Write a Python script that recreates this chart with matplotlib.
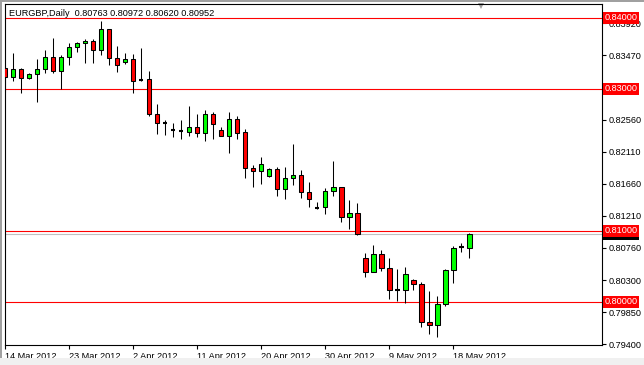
import matplotlib
matplotlib.use("Agg")
import matplotlib.pyplot as plt
from matplotlib.patches import Rectangle

plt.rcParams['font.family'] = 'Liberation Sans'
plt.rcParams['font.size'] = 6.6

# EURGBP daily bars, 14 Mar 2012 .. 21 May 2012
opens = [
    0.83287, 0.83169, 0.83273, 0.83146, 0.83203, 0.83273, 0.83442, 0.83253, 0.83442, 0.83583,
    0.83639, 0.83676, 0.83545, 0.83837, 0.83428, 0.83372, 0.83414, 0.83120, 0.83132, 0.82640,
    0.82519, 0.82418, 0.82408, 0.82394, 0.82456, 0.82380, 0.82640, 0.82418, 0.82338, 0.82569,
    0.82390, 0.81879, 0.81837, 0.81770, 0.81865, 0.81583, 0.81738, 0.81785, 0.81541, 0.81320,
    0.81330, 0.81563, 0.81611, 0.81189, 0.81245, 0.80611, 0.80414, 0.80668, 0.80470, 0.80165,
    0.80165, 0.80306, 0.80245, 0.79710, 0.79668, 0.79963, 0.80446, 0.80770, 0.80763]
highs = [
    0.83334, 0.83499, 0.83296, 0.83217, 0.83414, 0.83545, 0.83710, 0.83475, 0.83639, 0.83654,
    0.83700, 0.83696, 0.83958, 0.83837, 0.83601, 0.83499, 0.83485, 0.83569, 0.83249, 0.82785,
    0.82559, 0.82521, 0.82559, 0.82756, 0.82640, 0.82700, 0.82668, 0.82456, 0.82668, 0.82616,
    0.82428, 0.81925, 0.82034, 0.81879, 0.81893, 0.81893, 0.82221, 0.81855, 0.81682, 0.81400,
    0.81597, 0.81982, 0.81611, 0.81432, 0.81394, 0.80690, 0.80799, 0.80728, 0.80611, 0.80456,
    0.80493, 0.80320, 0.80273, 0.80155, 0.80080, 0.80461, 0.80785, 0.80831, 0.80972]
lows = [
    0.82958, 0.83113, 0.82935, 0.83132, 0.82817, 0.83225, 0.83217, 0.82992, 0.83334, 0.83521,
    0.83358, 0.83358, 0.83475, 0.83334, 0.83240, 0.83344, 0.82935, 0.83110, 0.82616, 0.82362,
    0.82348, 0.82324, 0.82292, 0.82334, 0.82324, 0.82268, 0.82292, 0.82335, 0.82099, 0.82292,
    0.81738, 0.81620, 0.81654, 0.81752, 0.81489, 0.81442, 0.81644, 0.81465, 0.81338, 0.81310,
    0.81231, 0.81493, 0.81127, 0.81028, 0.80939, 0.80352, 0.80414, 0.80432, 0.80034, 0.80010,
    0.79977, 0.80165, 0.79639, 0.79541, 0.79507, 0.79944, 0.80259, 0.80704, 0.80620]
closes = [
    0.83169, 0.83273, 0.83146, 0.83203, 0.83273, 0.83442, 0.83253, 0.83442, 0.83583, 0.83639,
    0.83676, 0.83545, 0.83837, 0.83428, 0.83330, 0.83414, 0.83113, 0.83120, 0.82640, 0.82513,
    0.82519, 0.82418, 0.82408, 0.82456, 0.82380, 0.82640, 0.82499, 0.82338, 0.82569, 0.82380,
    0.81879, 0.81837, 0.81939, 0.81865, 0.81583, 0.81738, 0.81785, 0.81541, 0.81442, 0.81320,
    0.81563, 0.81611, 0.81189, 0.81245, 0.80958, 0.80414, 0.80668, 0.80470, 0.80165, 0.80165,
    0.80386, 0.80245, 0.79710, 0.79668, 0.79963, 0.80446, 0.80752, 0.80770, 0.80952]

date_labels = ['14 Mar 2012', '23 Mar 2012', '2 Apr 2012', '11 Apr 2012',
               '20 Apr 2012', '30 Apr 2012', '9 May 2012', '18 May 2012']
date_every = 8
price_ticks = [0.79400, 0.79850, 0.80300, 0.80760, 0.81210, 0.81660,
               0.82110, 0.82560, 0.83470, 0.83920]
levels = [0.84, 0.83, 0.81, 0.80]
bid = 0.80952

fig = plt.figure(figsize=(6.44, 3.65), dpi=100)
ax = fig.add_axes([4.5 / 644, 1 - 345 / 365, 597.5 / 644, 341 / 365])

x = list(range(len(opens)))
up = [c > o for o, c in zip(opens, closes)]
down = [c < o for o, c in zip(opens, closes)]
flat = [c == o for o, c in zip(opens, closes)]

# wicks
ax.vlines(x, lows, highs, color='black', linewidth=0.75, zorder=2)

# bodies
for mask, col in [(up, '#00ff00'), (down, '#ff0000')]:
    xs = [i for i in x if mask[i]]
    bottoms = [min(opens[i], closes[i]) for i in xs]
    heights = [abs(closes[i] - opens[i]) for i in xs]
    ax.bar(xs, heights, bottom=bottoms, width=0.6, color=col,
           edgecolor='black', linewidth=0.75, zorder=3)

# doji bars drawn as a short dash
xs = [i for i in x if flat[i]]
ax.hlines([opens[i] for i in xs], [i - 0.3 for i in xs], [i + 0.3 for i in xs],
          color='black', linewidth=1.5, zorder=3)

# horizontal levels and bid line
for lv in levels:
    ax.axhline(lv, color='#ff0000', linewidth=0.8, zorder=1)
ax.axhline(bid, color='#c0c0c0', linewidth=0.8, zorder=1)

ax.set_xlim(-0.06, 74.6)
ax.set_ylim(0.793901, 0.841930)

ax.yaxis.tick_right()
ax.set_yticks(price_ticks)
ax.set_yticklabels(['%.5f' % t for t in price_ticks])
ax.tick_params(axis='y', length=3, width=0.8, pad=2, colors='black')

ax.set_xticks(range(0, len(date_labels) * date_every, date_every))
ax.set_xticklabels(date_labels, ha='left')
ax.tick_params(axis='x', length=3, width=0.8, pad=2)

for s in ax.spines.values():
    s.set_linewidth(0.8)

# price labels on the right axis
ytr = ax.get_yaxis_transform()
ax.text(1.0045, bid, '%.5f' % bid, transform=ytr, ha='left', va='center',
        color='white', zorder=5,
        bbox=dict(boxstyle='square,pad=0.15', fc='black', ec='none'))
for lv in levels:
    ax.text(1.0045, lv, '%.5f' % lv, transform=ytr, ha='left', va='center',
            color='white', zorder=6,
            bbox=dict(boxstyle='square,pad=0.15', fc='#ff0000', ec='none'))

# title
ax.text(0.008, 0.972, 'EURGBP,Daily  %.5f %.5f %.5f %.5f'
        % (opens[-1], highs[-1], lows[-1], closes[-1]),
        transform=ax.transAxes, ha='left', va='center', color='black')

# chart shift marker
ax.plot([0.7975], [0.993], marker='v', markersize=5, color='#a0a0a0',
        markeredgewidth=0, transform=ax.transAxes, clip_on=False)

# window frame
fig.add_artist(Rectangle((0, 1 - 2 / 365), 1, 2 / 365, transform=fig.transFigure,
                         color='#a0a0a0', lw=0))
fig.add_artist(Rectangle((0, 0), 1.5 / 644, 1, transform=fig.transFigure,
                         color='#a0a0a0', lw=0))
fig.add_artist(Rectangle((0, 0), 1, 7 / 365, transform=fig.transFigure,
                         color='#f0f0f0', lw=0))

fig.savefig('out.png', dpi=100)
